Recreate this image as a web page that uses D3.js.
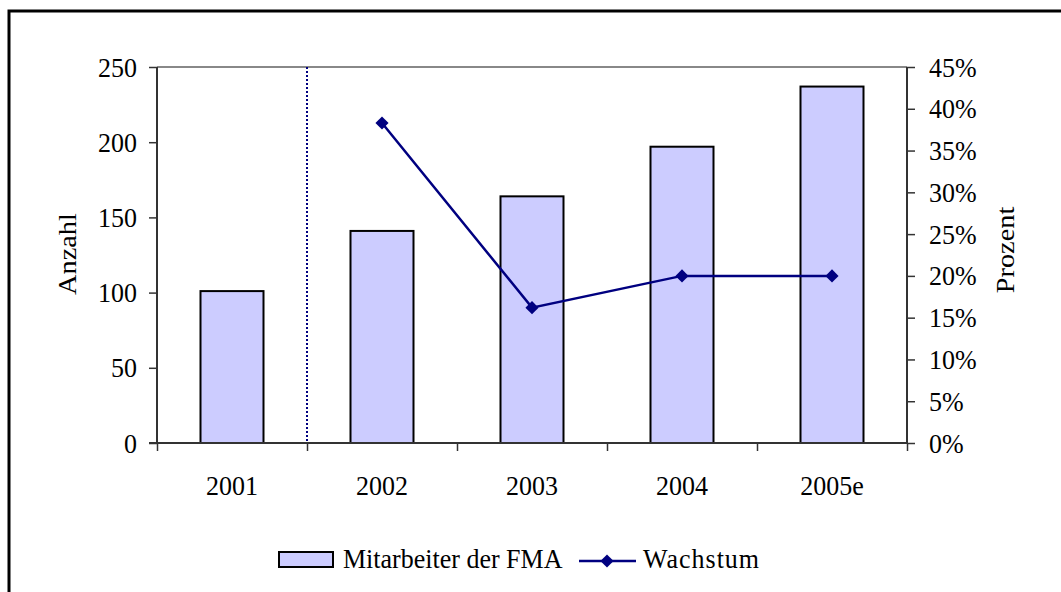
<!DOCTYPE html>
<html>
<head>
<meta charset="utf-8">
<script src="https://cdn.jsdelivr.net/npm/d3@7"></script>
<style>
  html, body { margin: 0; padding: 0; background: #fff; }
  svg text { font-family: "Liberation Serif", "Times New Roman", serif; fill: #000; }
</style>
</head>
<body>
<svg id="chart" width="1061" height="592"></svg>
<script>
// Staff numbers of the FMA and their year-on-year growth
const years = ["2001", "2002", "2003", "2004", "2005e"];
const staff = [101, 141, 164, 197, 237];
const growthYears = ["2002", "2003", "2004", "2005e"];
const growth = [0.383, 0.162, 0.20, 0.20];
const leftTicks = [0, 50, 100, 150, 200, 250];
const rightTicks = [0, 0.05, 0.10, 0.15, 0.20, 0.25, 0.30, 0.35, 0.40, 0.45];

const svg = d3.select("#chart");
const navy = "#000080";
const plot = { left: 157, right: 907, top: 67, bottom: 443 };
const fontSize = 26;
const stretch = 1.09; // glyphs are slightly taller than wide

// outer frame
svg.append("rect")
  .attr("x", 9).attr("y", 11)
  .attr("width", 1070).attr("height", 600)
  .attr("fill", "none").attr("stroke", "#000").attr("stroke-width", 3);

const x = d3.scaleBand().domain(years).range([plot.left, plot.right]);
const yLeft = d3.scaleLinear().domain([0, 250]).range([plot.bottom, plot.top]);
const yRight = d3.scaleLinear().domain([0, 0.45]).range([plot.bottom, plot.top]);

// top border of the plot area
svg.append("line")
  .attr("x1", plot.left).attr("x2", plot.right)
  .attr("y1", plot.top).attr("y2", plot.top)
  .attr("stroke", "#888").attr("stroke-width", 2);

// bars
const barW = x.bandwidth() * 0.42;
svg.append("g").selectAll("rect")
  .data(years.map((y, i) => ({ year: y, v: staff[i] })))
  .join("rect")
  .attr("x", d => x(d.year) + (x.bandwidth() - barW) / 2)
  .attr("y", d => yLeft(d.v))
  .attr("width", barW)
  .attr("height", d => yLeft(0) - yLeft(d.v))
  .attr("fill", "#CCCCFF")
  .attr("stroke", "#000")
  .attr("stroke-width", 2);

// dotted separator between 2001 and 2002
svg.append("line")
  .attr("x1", x("2002")).attr("x2", x("2002"))
  .attr("y1", plot.top).attr("y2", plot.bottom)
  .attr("stroke", navy).attr("stroke-width", 2)
  .attr("stroke-dasharray", "2,2");

// left axis
const gL = svg.append("g").attr("transform", `translate(${plot.left},0)`)
  .call(d3.axisLeft(yLeft).tickValues(leftTicks).tickSize(8).tickPadding(12).tickFormat(d3.format("d")));
// right axis
const gR = svg.append("g").attr("transform", `translate(${plot.right},0)`)
  .call(d3.axisRight(yRight).tickValues(rightTicks).tickSize(8).tickPadding(14).tickFormat(d3.format(".0%")));
// bottom axis with ticks at category boundaries
const xPos = d3.scaleLinear().domain([0, years.length]).range([plot.left, plot.right]);
const gB = svg.append("g").attr("transform", `translate(0,${plot.bottom})`)
  .call(d3.axisBottom(xPos).tickValues(d3.range(0, years.length + 1)).tickSize(8).tickFormat(""));
gB.select(".domain").attr("d", `M${plot.left - 8},0H${plot.right}`);
svg.append("g").selectAll("text")
  .data(years).join("text")
  .attr("transform", d => `translate(${x(d) + x.bandwidth() / 2},495) scale(1,${stretch})`)
  .attr("text-anchor", "middle")
  .attr("font-size", fontSize)
  .text(d => d);

[gL, gR, gB].forEach(g => {
  g.select(".domain").attr("stroke", "#333").attr("stroke-width", 2);
  g.selectAll(".tick line").attr("stroke", "#333").attr("stroke-width", 1.5);
  g.selectAll(".tick text")
    .attr("font-family", '"Liberation Serif", "Times New Roman", serif')
    .attr("font-size", fontSize).attr("fill", "#000")
    .attr("transform", `scale(1,${stretch})`);
});
gL.select(".domain").attr("d", `M0,${plot.top}V${plot.bottom}`);
gR.select(".domain").attr("d", `M0,${plot.top}V${plot.bottom}`);

// axis titles
svg.append("text")
  .attr("transform", `translate(76,254) scale(1,${stretch}) rotate(-90)`)
  .attr("text-anchor", "middle")
  .attr("font-size", fontSize)
  .text("Anzahl");
svg.append("text")
  .attr("transform", `translate(1014,250) scale(1,${stretch}) rotate(-90)`)
  .attr("text-anchor", "middle")
  .attr("font-size", fontSize)
  .text("Prozent");

// growth line with diamond markers
const line = d3.line()
  .x((d, i) => x(growthYears[i]) + x.bandwidth() / 2)
  .y(d => yRight(d));
svg.append("path")
  .datum(growth)
  .attr("d", line)
  .attr("fill", "none")
  .attr("stroke", navy)
  .attr("stroke-width", 2.5);
const diamond = d3.symbol().type(d3.symbolDiamond2).size(110);
svg.append("g").selectAll("path")
  .data(growth).join("path")
  .attr("transform", (d, i) => `translate(${x(growthYears[i]) + x.bandwidth() / 2},${yRight(d)})`)
  .attr("d", diamond)
  .attr("fill", navy);

// legend
const lg = svg.append("g");
lg.append("rect")
  .attr("x", 279).attr("y", 552).attr("width", 54).attr("height", 15)
  .attr("fill", "#CCCCFF").attr("stroke", "#000").attr("stroke-width", 2);
lg.append("text")
  .attr("transform", `translate(343,568) scale(1,${stretch})`)
  .attr("font-size", fontSize).text("Mitarbeiter der FMA");
lg.append("line")
  .attr("x1", 579).attr("x2", 636).attr("y1", 561).attr("y2", 561)
  .attr("stroke", navy).attr("stroke-width", 2.5);
lg.append("path")
  .attr("transform", "translate(607,561)")
  .attr("d", diamond)
  .attr("fill", navy);
lg.append("text")
  .attr("transform", `translate(643,568) scale(1,${stretch})`)
  .attr("font-size", fontSize)
  .attr("letter-spacing", 1).text("Wachstum");
</script>
</body>
</html>
